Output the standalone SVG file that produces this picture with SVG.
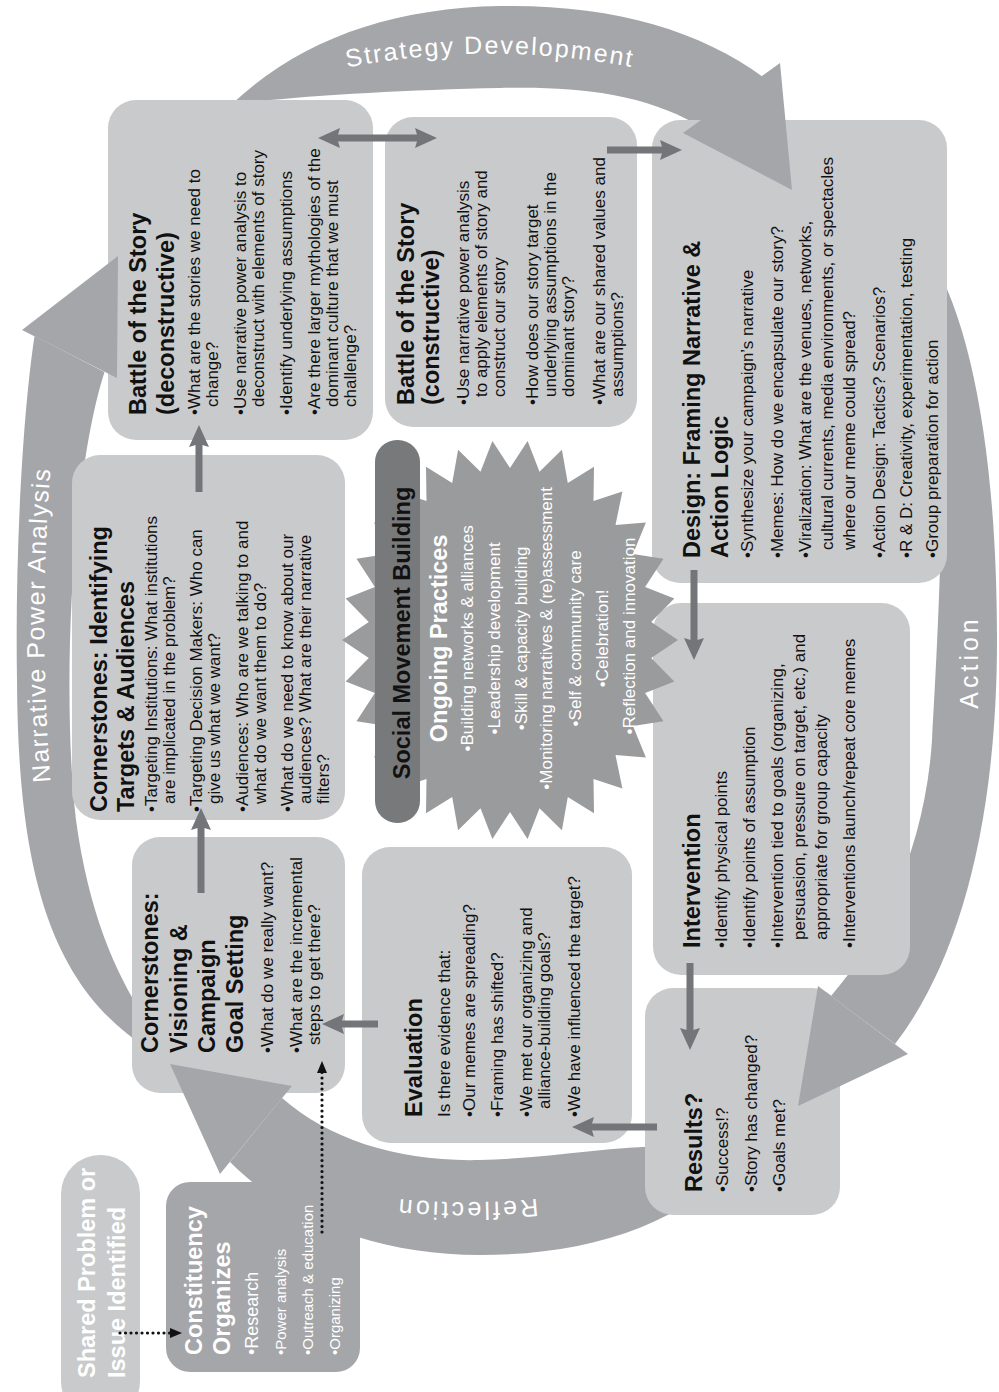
<svg xmlns="http://www.w3.org/2000/svg" width="999" height="1392" viewBox="0 0 999 1392">
<defs>
<style>
.box{fill:#c9cacc}
.dark{fill:#a5a6a9}
.ring{fill:#a5a6a9}
.t{font-family:"Liberation Sans",Arial,sans-serif;font-size:17px;fill:#111}
.h{font-weight:bold;font-size:23.5px}
.w{fill:#fff}
.rt{font-family:"Liberation Sans",Arial,sans-serif;fill:#fff;font-size:25px}
.con{stroke:#747578;stroke-width:7;fill:none}
.dot{stroke:#111;stroke-width:3.2;stroke-linecap:round;stroke-dasharray:0 5.5;fill:none}
</style>
<marker id="ah" viewBox="0 0 22 20" markerUnits="userSpaceOnUse" markerWidth="22" markerHeight="20" refX="5" refY="10" orient="auto-start-reverse"><path d="M0,0 L22,10 L0,20 L3,10 z" fill="#747578"/></marker>
<marker id="dh" viewBox="0 0 12 10" markerUnits="userSpaceOnUse" markerWidth="12" markerHeight="10" refX="2" refY="5" orient="auto"><path d="M0,0 L12,5 L0,10 z" fill="#111"/></marker>
<path id="pS" d="M330,71 A750,750 0 0 1 650,71"/>
<path id="pR" d="M560,1196 A700,700 0 0 1 374,1196"/>
<path id="pN" d="M52,800 A2000,2000 0 0 1 52,450"/>
</defs>
<rect width="999" height="1392" fill="#fff"/>

<g id="cycle-bands">
<path class="ring" d="M232,104 C300,40 390,8 500,6 C610,4 700,30 763,77 L696,124 C640,92 570,86 500,88 C400,90 300,96 232,104 Z"/>
<path class="ring" d="M930,255 C975,330 997,470 997,640 C997,820 960,960 895,1044 L831,996 C880,940 925,850 932,740 C940,600 950,400 930,255 Z"/>
<path class="ring" d="M740,1160 C680,1225 590,1255 480,1255 C380,1255 290,1222 230,1162 L282,1098 C330,1140 400,1162 480,1160 C580,1158 680,1130 740,1160 Z"/>
<path class="ring" d="M34.5,336 C22,420 15,560 17,680 C18,900 60,1020 200,1075 C150,1040 95,960 76,820 C62,700 70,480 104.5,372 Z"/>
</g>

<g id="battle-deconstructive"><rect class="box" x="108" y="100" width="265" height="340" rx="28"/></g>
<g id="battle-constructive"><rect class="box" x="385" y="117" width="252" height="310" rx="28"/></g>
<g id="design"><rect class="box" x="652" y="120" width="295" height="463" rx="28"/></g>
<g id="targets"><rect class="box" x="72" y="455" width="273" height="365" rx="28"/></g>
<g id="intervention"><rect class="box" x="653" y="603" width="257" height="372" rx="28"/></g>
<g id="visioning"><rect class="box" x="132" y="837" width="213" height="256" rx="28"/></g>
<g id="evaluation"><rect class="box" x="362" y="847" width="270" height="296" rx="28"/></g>
<g id="results"><rect class="box" x="645" y="988" width="195" height="227" rx="28"/></g>
<g id="constituency"><rect class="dark" x="166" y="1182" width="194" height="190" rx="24"/></g>
<g id="shared-problem"><rect class="box" x="61" y="1155" width="79" height="265" rx="39"/></g>

<g id="ongoing-practices">
<polygon fill="#9a9b9d" points="678,640 651.2,658 674.3,681.6 645.1,693.1 663.5,721.3 633,726 645.9,757.6 615.5,755.1 622.4,788.6 593.5,779.1 594,813.2 567.8,797.1 561.9,830.2 539.5,808.2 527.6,838.9 510,812 492.4,838.9 480.5,808.2 458.1,830.2 452.2,797.1 426,813.2 426.5,779.1 397.6,788.6 404.5,755.1 374.1,757.6 387,726 356.5,721.3 374.9,693.1 345.7,681.6 368.8,658 342,640 368.8,622 345.7,598.4 374.9,586.9 356.5,558.7 387,554 374.1,522.4 404.5,524.9 397.6,491.4 426.5,500.9 426,466.8 452.2,482.9 458.1,449.8 480.5,471.8 492.4,441.1 510,468 527.6,441.1 539.5,471.8 561.9,449.8 567.8,482.9 594,466.8 593.5,500.9 622.4,491.4 615.5,524.9 645.9,522.4 633,554 663.5,558.7 645.1,586.9 674.3,598.4 651.2,622"/>
<text class="t w" transform="translate(0,636) rotate(-90)" text-anchor="middle">
<tspan class="h" x="0" y="447" font-size="23">Ongoing Practices</tspan>
<tspan x="0" y="473">•Building networks &amp; alliances</tspan>
<tspan x="0" y="500">•Leadership development</tspan>
<tspan x="0" y="527">•Skill &amp; capacity building</tspan>
<tspan x="0" y="552">•Monitoring narratives &amp; (re)assessment</tspan>
<tspan x="0" y="581">•Self &amp; community care</tspan>
<tspan x="0" y="608">•Celebration!</tspan>
<tspan x="0" y="635">•Reflection and innovation</tspan>
</text>
</g>

<g id="social-movement-building">
<rect x="375" y="440" width="45" height="383" rx="22" fill="#78797b"/>
<text class="t h" transform="translate(0,633) rotate(-90)" text-anchor="middle" font-size="28.5"><tspan x="0" y="410">Social Movement Building</tspan></text>
</g>

<g id="cycle-arrowheads">
<path class="ring" d="M683,133 L780,63 L792,190 Z"/>
<path class="ring" d="M818,986 L908,1054 L798,1106 Z"/>
<path class="ring" d="M292,1086 L220,1174 L170,1064 Z"/>
<path class="ring" d="M22,330 L117,378 L118,256 Z"/>
</g>

<g id="cycle-labels">
<text class="rt" letter-spacing="2"><textPath href="#pS" startOffset="50%" text-anchor="middle">Strategy Development</textPath></text>
<text class="rt" font-size="27" letter-spacing="4" transform="translate(978,662) rotate(-90)" text-anchor="middle">Action</text>
<text class="rt" font-size="27" letter-spacing="3"><textPath href="#pR" startOffset="50%" text-anchor="middle">Reflection</textPath></text>
<text class="rt" font-size="24" letter-spacing="1.5"><textPath href="#pN" startOffset="50%" text-anchor="middle">Narrative Power Analysis</textPath></text>
</g>

<g id="texts">
<text class="t" transform="translate(0,415) rotate(-90)">
<tspan class="h" x="0" y="146">Battle of the Story</tspan>
<tspan class="h" x="0" y="174">(deconstructive)</tspan>
<tspan x="0" y="200">•What are the stories we need to</tspan>
<tspan x="8" y="218">change?</tspan>
<tspan x="0" y="246">•Use narrative power analysis to</tspan>
<tspan x="8" y="264">deconstruct with elements of story</tspan>
<tspan x="0" y="292">•Identify underlying assumptions</tspan>
<tspan x="0" y="320">•Are there larger mythologies of the</tspan>
<tspan x="8" y="338">dominant culture that we must</tspan>
<tspan x="8" y="356">challenge?</tspan>
</text>
<text class="t" transform="translate(0,405) rotate(-90)">
<tspan class="h" x="0" y="414">Battle of the Story</tspan>
<tspan class="h" x="0" y="439">(constructive)</tspan>
<tspan x="0" y="469">•Use narrative power analysis</tspan>
<tspan x="8" y="487">to apply elements of story and</tspan>
<tspan x="8" y="505">construct our story</tspan>
<tspan x="0" y="538">•How does our story target</tspan>
<tspan x="8" y="556">underlying assumptions in the</tspan>
<tspan x="8" y="574">dominant story?</tspan>
<tspan x="0" y="605">•What are our shared values and</tspan>
<tspan x="8" y="623">assumptions?</tspan>
</text>
<text class="t" transform="translate(0,558) rotate(-90)">
<tspan class="h" x="0" y="700">Design: Framing Narrative &amp;</tspan>
<tspan class="h" x="0" y="728">Action Logic</tspan>
<tspan x="0" y="753">•Synthesize your campaign’s narrative</tspan>
<tspan x="0" y="783">•Memes: How do we encapsulate our story?</tspan>
<tspan x="0" y="811">•Viralization: What are the venues, networks,</tspan>
<tspan x="8" y="833">cultural currents, media environments, or spectacles</tspan>
<tspan x="8" y="855">where our meme could spread?</tspan>
<tspan x="0" y="885">•Action Design: Tactics? Scenarios?</tspan>
<tspan x="0" y="912">•R &amp; D: Creativity, experimentation, testing</tspan>
<tspan x="0" y="938">•Group preparation for action</tspan>
</text>
<text class="t" transform="translate(0,812) rotate(-90)">
<tspan class="h" x="0" y="107">Cornerstones: Identifying</tspan>
<tspan class="h" x="0" y="134">Targets &amp; Audiences</tspan>
<tspan x="0" y="157">•Targeting Institutions: What institutions</tspan>
<tspan x="8" y="175">are implicated in the problem?</tspan>
<tspan x="0" y="202">•Targeting Decision Makers: Who can</tspan>
<tspan x="8" y="220">give us what we want?</tspan>
<tspan x="0" y="248">•Audiences: Who are we talking to and</tspan>
<tspan x="8" y="266">what do we want them to do?</tspan>
<tspan x="0" y="293">•What do we need to know about our</tspan>
<tspan x="8" y="311">audiences? What are their narrative</tspan>
<tspan x="8" y="329">filters?</tspan>
</text>
<text class="t" transform="translate(0,948) rotate(-90)">
<tspan class="h" x="0" y="700">Intervention</tspan>
<tspan x="0" y="727">•Identify physical points</tspan>
<tspan x="0" y="755">•Identify points of assumption</tspan>
<tspan x="0" y="783">•Intervention tied to goals (organizing,</tspan>
<tspan x="8" y="805">persuasion, pressure on target, etc.) and</tspan>
<tspan x="8" y="827">appropriate for group capacity</tspan>
<tspan x="0" y="855">•Interventions launch/repeat core memes</tspan>
</text>
<text class="t" transform="translate(0,1053) rotate(-90)">
<tspan class="h" x="0" y="158">Cornerstones:</tspan>
<tspan class="h" x="0" y="187">Visioning &amp;</tspan>
<tspan class="h" x="0" y="215">Campaign</tspan>
<tspan class="h" x="0" y="243">Goal Setting</tspan>
<tspan x="0" y="273">•What do we really want?</tspan>
<tspan x="0" y="302">•What are the incremental</tspan>
<tspan x="8" y="320">steps to get there?</tspan>
</text>
<text class="t" transform="translate(0,1117) rotate(-90)">
<tspan class="h" x="0" y="422">Evaluation</tspan>
<tspan x="0" y="450">Is there evidence that:</tspan>
<tspan x="0" y="475">•Our memes are spreading?</tspan>
<tspan x="0" y="503">•Framing has shifted?</tspan>
<tspan x="0" y="532">•We met our organizing and</tspan>
<tspan x="8" y="550">alliance-building goals?</tspan>
<tspan x="0" y="580">•We have influenced the target?</tspan>
</text>
<text class="t" transform="translate(0,1192) rotate(-90)">
<tspan class="h" x="0" y="702">Results?</tspan>
<tspan x="0" y="728">•Success!?</tspan>
<tspan x="0" y="757">•Story has changed?</tspan>
<tspan x="0" y="785">•Goals met?</tspan>
</text>
<text class="t w" transform="translate(0,1355) rotate(-90)">
<tspan class="h" x="0" y="202">Constituency</tspan>
<tspan class="h" x="0" y="230">Organizes</tspan>
<tspan x="0" y="258" font-size="18">•Research</tspan>
<tspan x="0" y="286" font-size="15">•Power analysis</tspan>
<tspan x="0" y="313" font-size="15">•Outreach &amp; education</tspan>
<tspan x="0" y="340" font-size="15">•Organizing</tspan>
</text>
<text class="t w h" font-size="22" transform="translate(0,1378) rotate(-90)">
<tspan x="0" y="95">Shared Problem or</tspan>
<tspan x="0" y="125">Issue Identified</tspan>
</text>
</g>

<g id="connectors">
<path class="con" d="M335,138 L420,138" marker-start="url(#ah)" marker-end="url(#ah)"/>
<path class="con" d="M607,150 L665,150" marker-end="url(#ah)"/>
<path class="con" d="M199,492 L199,442" marker-end="url(#ah)"/>
<path class="con" d="M201,893 L201,825" marker-end="url(#ah)"/>
<path class="con" d="M694,570 L694,643" marker-end="url(#ah)"/>
<path class="con" d="M690,963 L690,1033" marker-end="url(#ah)"/>
<path class="con" d="M657,1127 L589,1127" marker-end="url(#ah)"/>
<path class="con" d="M378,1024 L339,1024" marker-end="url(#ah)"/>
<path class="dot" d="M322,1232 L322,1071" marker-end="url(#dh)"/>
<path class="dot" d="M120,1333 L172,1333" marker-end="url(#dh)"/>
</g>
</svg>
